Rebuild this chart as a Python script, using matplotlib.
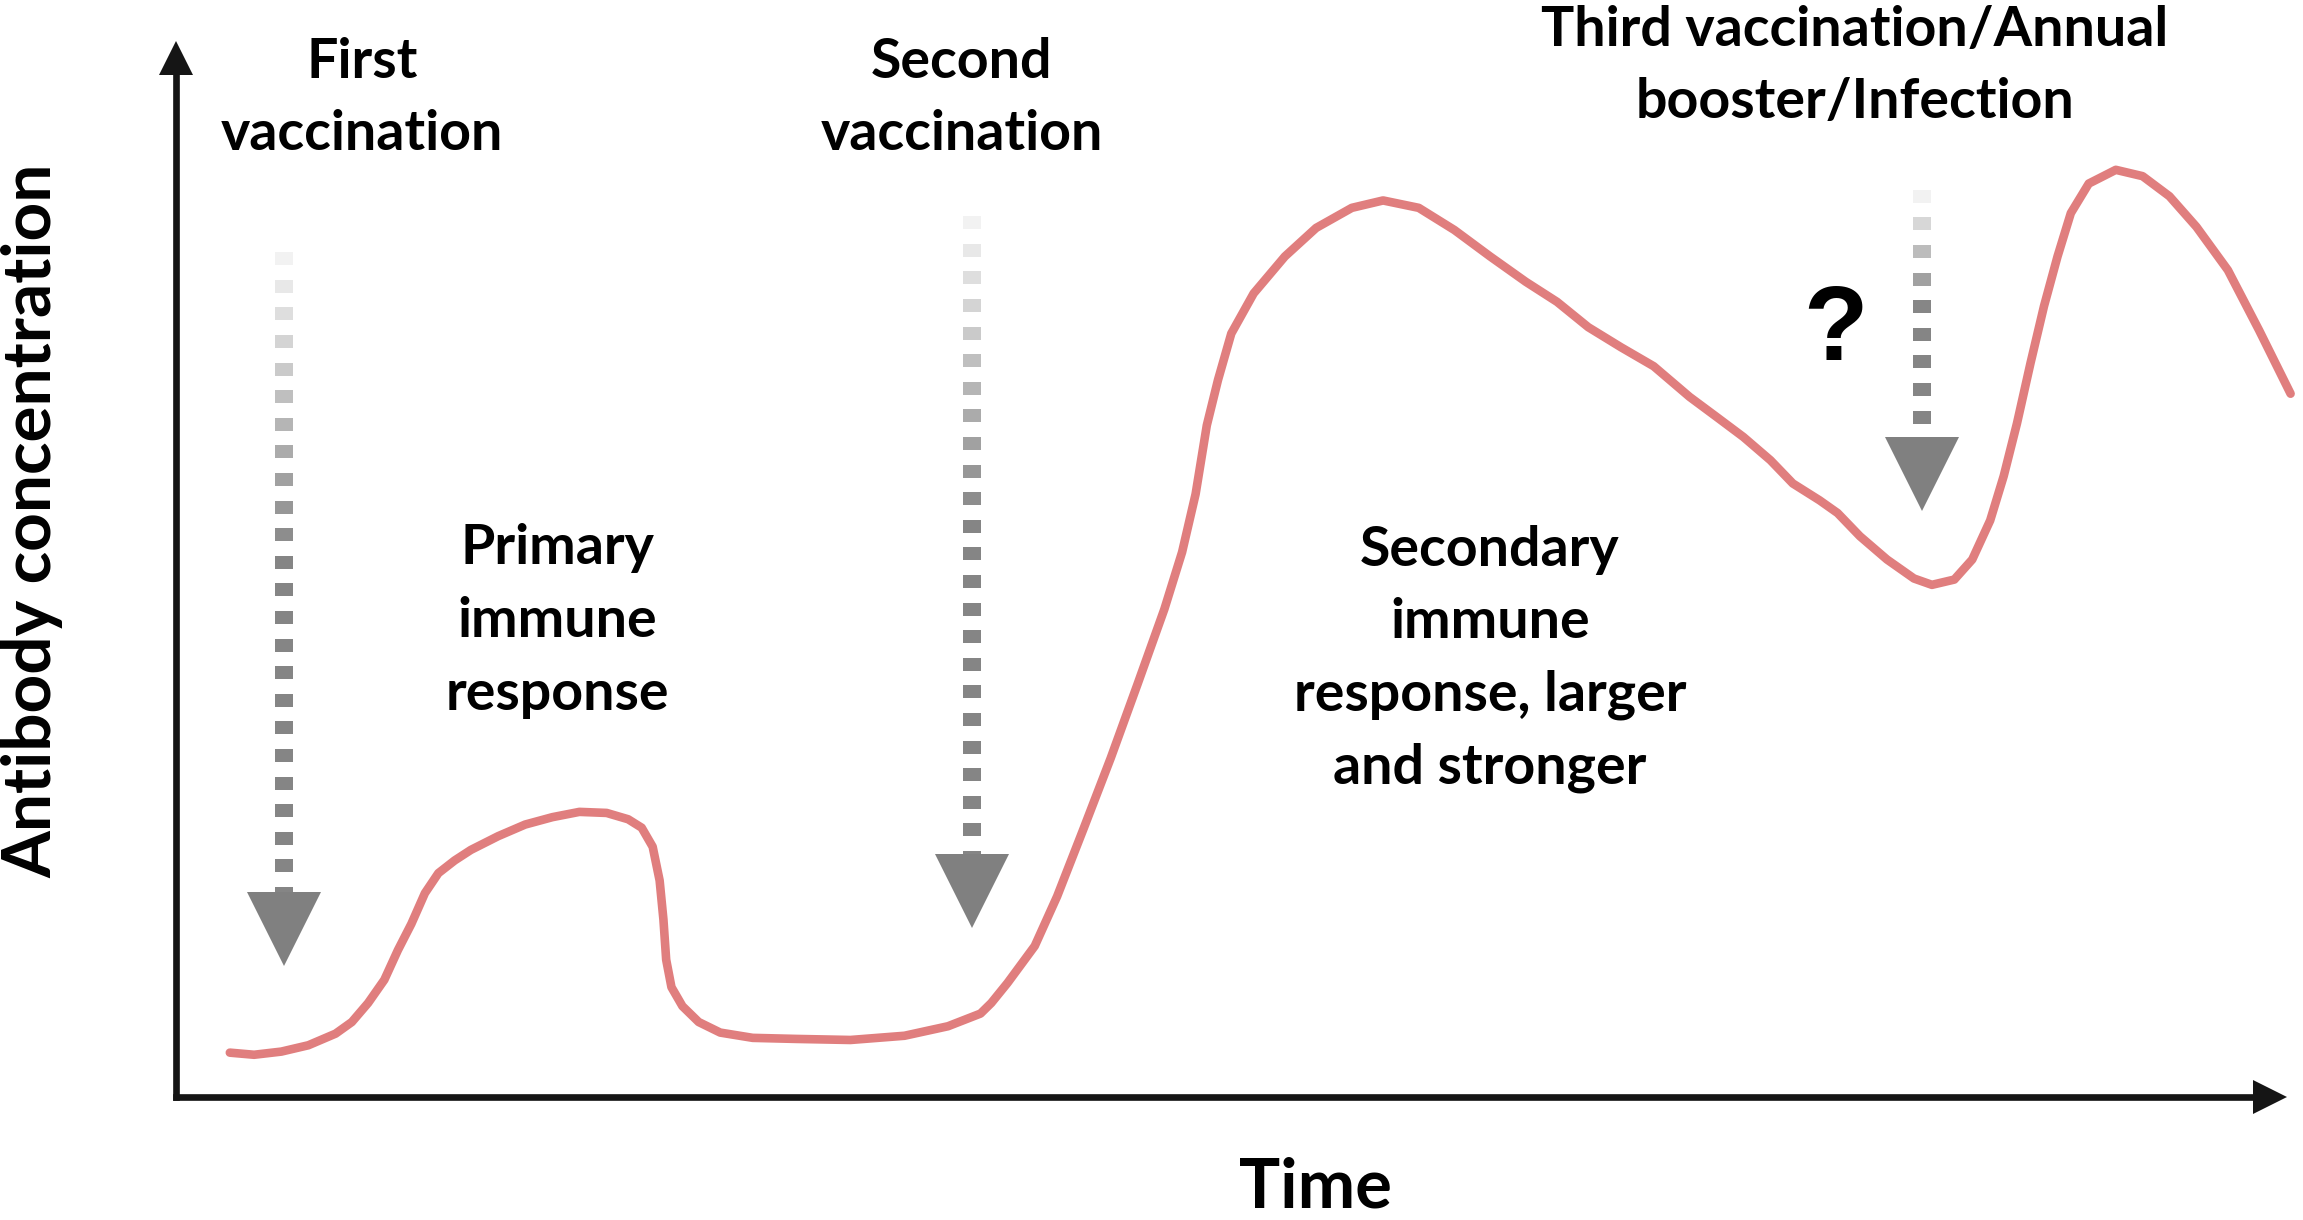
import matplotlib
matplotlib.use("Agg")
import matplotlib.pyplot as plt
from matplotlib.transforms import offset_copy

# antibody curve, time and concentration both on a 0-100 scale
time = [2.55, 3.70, 4.99, 6.27, 7.56, 8.33, 9.10, 9.87, 10.51, 11.15, 11.79, 12.43, 13.20,
        13.97, 15.26, 16.54, 17.83, 19.11, 20.40, 21.42, 22.06, 22.58, 22.91, 23.09, 23.22,
        23.47, 23.99, 24.76, 25.78, 27.32, 29.38, 31.95, 34.51, 36.57, 38.11, 38.62, 39.39,
        40.68, 41.74, 43.01, 44.28, 45.55, 46.82, 47.66, 48.30, 48.83, 49.36, 49.99, 51.05,
        52.53, 54.01, 55.70, 57.18, 58.87, 60.56, 62.25, 63.94, 65.42, 66.90, 68.45, 70.00,
        71.70, 72.98, 74.25, 75.53, 76.59, 77.86, 78.71, 79.77, 81.05, 82.33, 83.18, 84.24,
        85.09, 85.94, 86.58, 87.21, 87.85, 88.49, 89.13, 89.76, 90.61, 91.89, 93.16, 94.43,
        95.71, 97.20, 98.68, 100.17]
conc = [4.2, 4.0, 4.3, 4.9, 6.0, 7.1, 8.9, 11.1, 13.9, 16.4, 19.3, 21.2, 22.4,
        23.4, 24.7, 25.8, 26.5, 27.0, 26.9, 26.3, 25.5, 23.7, 20.5, 16.8, 13.0,
        10.4, 8.6, 7.1, 6.1, 5.6, 5.5, 5.4, 5.8, 6.7, 7.9, 8.9, 10.8,
        14.3, 19.0, 25.5, 32.1, 39.1, 46.2, 51.6, 57.1, 63.6, 67.9, 72.3, 76.1,
        79.6, 82.3, 84.2, 84.9, 84.2, 82.1, 79.6, 77.2, 75.3, 72.9, 71.0, 69.2,
        66.3, 64.4, 62.5, 60.3, 58.1, 56.5, 55.3, 53.1, 50.9, 49.1, 48.5, 49.0,
        50.9, 54.6, 58.8, 63.8, 69.5, 74.9, 79.6, 83.7, 86.5, 87.8, 87.2, 85.3,
        82.4, 78.3, 72.6, 66.6]

# doses
dose_time = [5.1, 37.7, 82.7]
dose_labels = ["First\nvaccination", "Second\nvaccination",
               "Third vaccination/Annual\nbooster/Infection"]
phase_labels = ["Primary\nimmune\nresponse",
                "Secondary\nimmune\nresponse, larger\nand stronger"]

W, H = 2303, 1220
fig = plt.figure(figsize=(W / 100, H / 100), dpi=100)
fig.patch.set_facecolor("white")

# plot area: from the y axis (x=176px) to the x arrow tip, x axis (y=1097px) to y arrow tip
x0, x1, y0, y1 = 176, 2287, 1097, 41
ax = fig.add_axes([x0 / W, 1 - y0 / H, (x1 - x0) / W, (y0 - y1) / H])
ax.set_xlim(0, 100)
ax.set_ylim(0, 100)
ax.axis("off")

def px(x, y):
    return x / W, 1 - y / H

axis_col = "#151515"
ax.plot([0, 0], [0, 97], color=axis_col, lw=4.8, solid_capstyle="projecting", clip_on=False)
ax.plot([0, 98.5], [0, 0], color=axis_col, lw=4.8, solid_capstyle="projecting", clip_on=False)
ax.plot(0, 100, marker="^", ms=34 * 0.72, mew=0, color=axis_col, clip_on=False,
        transform=offset_copy(ax.transData, fig, y=-17, units="dots"))
ax.plot(100, 0, marker=">", ms=34 * 0.72, mew=0, color=axis_col, clip_on=False,
        transform=offset_copy(ax.transData, fig, x=-17, units="dots"))

# curve
ax.plot(time, conc, color="#E07E7E", lw=6.2, solid_joinstyle="round",
        solid_capstyle="round", clip_on=False)

# dashed dose arrows fading in from the top
arrow_top = [80.0, 83.4, 85.9]
arrow_tip = [12.4, 16.0, 55.5]
ppu = ax.transData.transform((0, 1))[1] - ax.transData.transform((0, 0))[1]
dash, period, head = 13 / ppu, 27.6 / ppu, 74 / ppu
for t, top, tip in zip(dose_time, arrow_top, arrow_tip):
    base = tip + head
    starts = []
    y = top
    while y > base:
        starts.append(y)
        y -= period
    n = len(starts)
    for i, ys in enumerate(starts):
        f = min(1.0, i / (0.45 * n))
        g = 0.95 - (0.95 - 0.52) * f
        ye = max(ys - dash, base)
        ax.plot([t, t], [ys, ye], color=(g, g, g), lw=18 * 0.72,
                solid_capstyle="butt", clip_on=False)
    ax.plot(t, tip, marker="v", ms=74 * 0.72, mew=0, color="#808080", clip_on=False,
            transform=offset_copy(ax.transData, fig, y=37, units="dots"))

font = dict(family="Lato", fontweight="bold", color="black")
label_pos = [(362, 98), (962, 98), (1855, 66)]
for (x, y), s in zip(label_pos, dose_labels):
    fig.text(*px(x, y), s, ha="center", va="center", multialignment="center",
             fontsize=40, linespacing=1.55, **font)
phase_pos = [(557, 621), (1490, 659)]
for (x, y), s in zip(phase_pos, phase_labels):
    fig.text(*px(x, y), s, ha="center", va="center", multialignment="center",
             fontsize=40, linespacing=1.55, **font)

fig.text(*px(1835, 333), "?", ha="center", va="center", fontsize=76,
         family="Liberation Sans", fontweight="bold")

fig.text(*px(32, 521), "Antibody concentration", rotation=90, ha="center", va="center",
         fontsize=48.6, **font)
fig.text(*px(1315, 1207), "Time", ha="center", va="baseline", fontsize=49.5, **font)

fig.savefig("out.png", dpi=100, facecolor="white")
